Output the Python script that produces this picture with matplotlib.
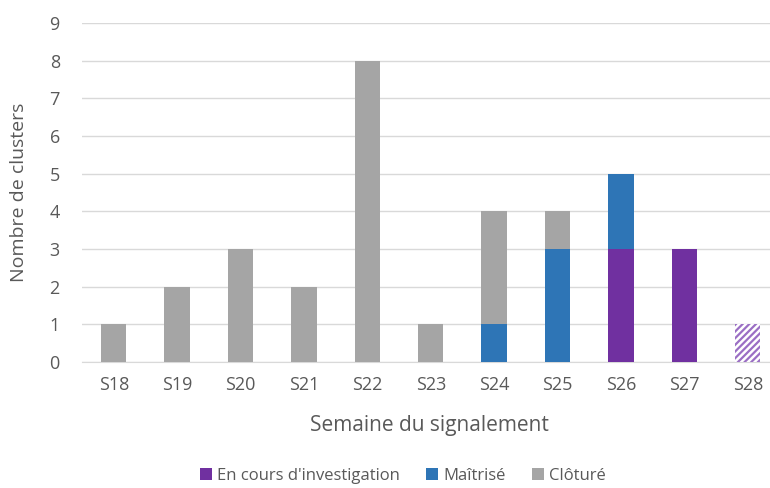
import matplotlib.pyplot as plt
import numpy as np

plt.rcParams['font.family'] = ['Open Sans', 'DejaVu Sans']

weeks = ['S18', 'S19', 'S20', 'S21', 'S22', 'S23', 'S24', 'S25', 'S26', 'S27', 'S28']
en_cours = [0, 0, 0, 0, 0, 0, 0, 0, 3, 3, 0]
maitrise = [0, 0, 0, 0, 0, 0, 1, 3, 2, 0, 0]
cloture = [1, 2, 3, 2, 8, 1, 3, 1, 0, 0, 0]
en_cours_partiel = [0, 0, 0, 0, 0, 0, 0, 0, 0, 0, 1]

c_purple = '#7030A0'
c_blue = '#2E75B6'
c_gray = '#A5A5A5'
txt = '#595959'

fig = plt.figure(figsize=(7.7, 4.88), dpi=100)
ax = fig.add_axes([0.1065, 0.258, 0.8935, 0.695])

x = np.arange(len(weeks))
w = 0.4
ax.bar(x, en_cours, w, color=c_purple, label="En cours d'investigation", zorder=3)
ax.bar(x, maitrise, w, bottom=en_cours, color=c_blue, label='Maîtrisé', zorder=3)
bottom2 = np.array(en_cours) + np.array(maitrise)
ax.bar(x, cloture, w, bottom=bottom2, color=c_gray, label='Clôturé', zorder=3)
plt.rcParams['hatch.linewidth'] = 1.6
ax.bar(x, en_cours_partiel, w, color='white', edgecolor='#9b6fc4', hatch='/////',
       linewidth=0, zorder=3)

ax.set_ylim(0, 9)
ax.set_xlim(-0.5, 10.35)
ax.set_yticks(range(0, 10))
ax.set_xticks(x)
ax.set_xticklabels(weeks)
ax.yaxis.grid(True, color='#d9d9d9', linewidth=1, zorder=0)
for s in ['top', 'right', 'left']:
    ax.spines[s].set_visible(False)
ax.spines['bottom'].set_color('#d9d9d9')
ax.tick_params(axis='both', length=0, colors=txt, labelsize=13)
ax.tick_params(axis='x', pad=10)
ax.tick_params(axis='y', pad=16)
ax.set_ylabel('Nombre de clusters', color=txt, fontsize=14)
ax.yaxis.set_label_coords(-0.079, 0.5)
ax.set_xlabel('Semaine du signalement', color=txt, fontsize=15)
ax.xaxis.set_label_coords(0.505, -0.155)

leg = fig.legend(loc='lower center', bbox_to_anchor=(0.523, -0.022), ncol=3, frameon=False,
                 fontsize=12, handlelength=0.7, handleheight=0.7, columnspacing=1.6,
                 handletextpad=0.3)
for t in leg.get_texts():
    t.set_color(txt)

fig.savefig('out.png', dpi=100)
